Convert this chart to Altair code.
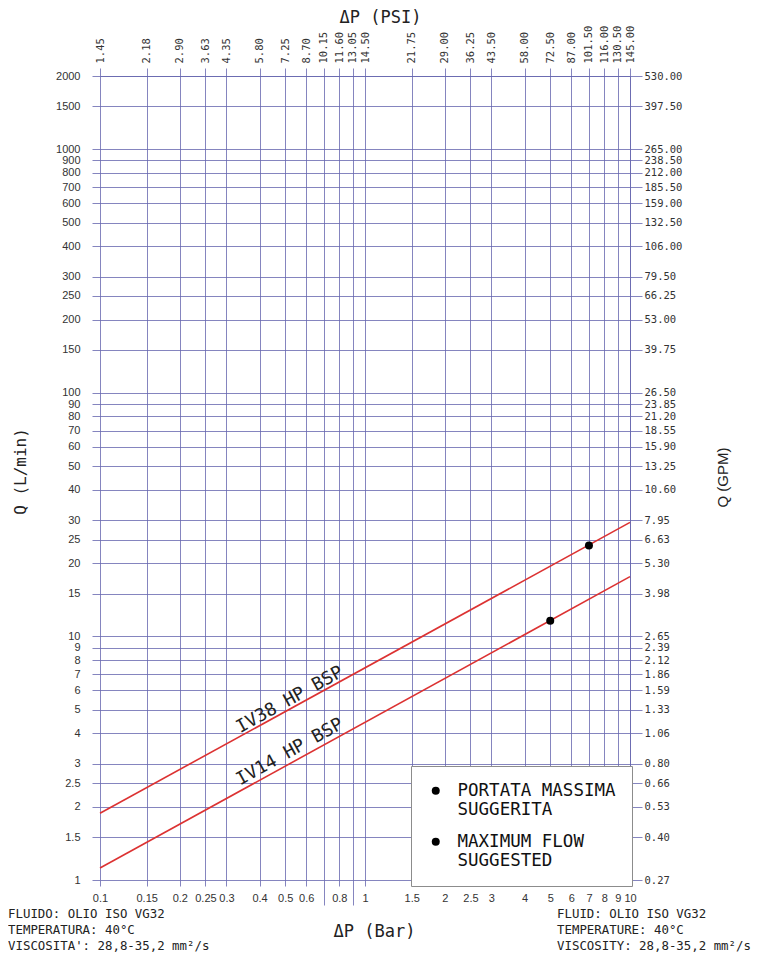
import json
import altair as alt
import pandas as pd

# ---------------- data ----------------
bar_ticks = [0.1, 0.15, 0.2, 0.25, 0.3, 0.4, 0.5, 0.6, 0.7, 0.8, 0.9, 1,
             1.5, 2, 2.5, 3, 4, 5, 6, 7, 8, 9, 10]
bar_unlabeled = [0.7, 0.9]
psi_labels = ["1.45", "2.18", "2.90", "3.63", "4.35", "5.80", "7.25", "8.70",
              "10.15", "11.60", "13.05", "14.50", "21.75", "29.00", "36.25",
              "43.50", "58.00", "72.50", "87.00", "101.50", "116.00",
              "130.50", "145.00"]
lpm_ticks = [1, 1.5, 2, 2.5, 3, 4, 5, 6, 7, 8, 9, 10, 15, 20, 25, 30, 40, 50,
             60, 70, 80, 90, 100, 150, 200, 250, 300, 400, 500, 600, 700, 800,
             900, 1000, 1500, 2000]
gpm_labels = ["0.27", "0.40", "0.53", "0.66", "0.80", "1.06", "1.33", "1.59",
              "1.86", "2.12", "2.39", "2.65", "3.98", "5.30", "6.63", "7.95",
              "10.60", "13.25", "15.90", "18.55", "21.20", "23.85", "26.50",
              "39.75", "53.00", "66.25", "79.50", "106.00", "132.50",
              "159.00", "185.50", "212.00", "238.50", "265.00", "397.50",
              "530.00"]

series_names = ["IV38 HP BSP", "IV14 HP BSP"]
series_dp = [[0.1, 10], [0.1, 10]]
series_q = [[1.88, 29.4], [1.12, 17.6]]

max_dp = [7, 5]
max_q = [23.6, 11.6]

label_dp = [0.521, 0.521]
label_q = [5.48, 3.35]

legend_lines = [["PORTATA MASSIMA", "SUGGERITA"], ["MAXIMUM FLOW", "SUGGESTED"]]
legend_domain = ["|".join(l) for l in legend_lines]

notes_it = ["FLUIDO: OLIO ISO VG32", "TEMPERATURA: 40°C",
            "VISCOSITA': 28,8-35,2 mm²/s"]
notes_en = ["FLUID: OLIO ISO VG32", "TEMPERATURE: 40°C",
            "VISCOSITY: 28,8-35,2 mm²/s"]

# ---------------- tables ----------------
lines_df = pd.DataFrame([
    {"series": s, "dp": d, "q": q}
    for s, ds, qs in zip(series_names, series_dp, series_q)
    for d, q in zip(ds, qs)
])
points_df = pd.DataFrame({"dp": max_dp, "q": max_q,
                          "note": [legend_domain[1]] * len(max_dp)})
labels_df = pd.DataFrame({"name": series_names, "dp": label_dp, "q": label_q})

# ---------------- style ----------------
GRID = "#6666ae"
MONO = "DejaVu Sans Mono"
SANS = "Liberation Sans"

xs = alt.Scale(type="log", domain=[0.1, 10], nice=False)
ys = alt.Scale(type="log", domain=[1, 2000], nice=False)

js = json.dumps

x_bottom = alt.Axis(
    orient="bottom", values=bar_ticks,
    labelExpr=f"indexof({js(bar_unlabeled)}, datum.value) >= 0 ? '' : toString(datum.value)",
    grid=True, gridColor=GRID, gridWidth=0.8, domain=False,
    tickColor=GRID, tickWidth=0.8,
    tickSize={"condition": {"test": f"indexof({js(bar_unlabeled)}, datum.value) >= 0",
                            "value": 25}, "value": 6},
    labelFont=SANS, labelFontSize=11, labelColor="#333", labelPadding=6,
    labelFlush=False, labelOverlap=False, labelBound=False,
    title="ΔP (Bar)", titleFont=MONO, titleFontSize=17, titleFontWeight="normal",
    titleColor="#222", titleX=274, titleY=51, titleBaseline="middle",
)
y_left = alt.Axis(
    orient="left", values=lpm_ticks, labelExpr="toString(datum.value)",
    grid=True, gridColor=GRID, gridWidth=0.8, domain=False,
    tickColor=GRID, tickWidth=0.8, tickSize=8,
    labelFont=SANS, labelFontSize=11, labelColor="#333", labelPadding=12,
    labelFlush=False, labelOverlap=False, labelBound=False,
    title="Q (L/min)", titleFont=MONO, titleFontSize=16, titleFontWeight="normal",
    titleColor="#222", titleAngle=270, titleX=-80, titleY=395,
    titleBaseline="middle",
)
x_top = alt.Axis(
    orient="top", values=bar_ticks,
    labelExpr=f"{js(psi_labels)}[indexof({js(bar_ticks)}, datum.value)]",
    grid=False, domain=True, domainColor=GRID, domainWidth=0.8,
    tickColor=GRID, tickWidth=0.8, tickSize=8,
    labelAngle=270, labelAlign="left", labelBaseline="middle",
    labelFont=MONO, labelFontSize=10.5, labelColor="#333", labelPadding=5,
    labelFlush=False, labelOverlap=False, labelBound=False,
    title="ΔP (PSI)", titleFont=MONO, titleFontSize=17, titleFontWeight="normal",
    titleColor="#222", titleX=280, titleY=-59, titleBaseline="middle",
)
y_right = alt.Axis(
    orient="right", values=lpm_ticks,
    labelExpr=f"{js(gpm_labels)}[indexof({js(lpm_ticks)}, datum.value)]",
    grid=False, domain=True, domainColor=GRID, domainWidth=0.8,
    tickColor=GRID, tickWidth=0.8, tickSize=12,
    labelFont=MONO, labelFontSize=10.5, labelColor="#333", labelPadding=2,
    labelFlush=False, labelOverlap=False, labelBound=False,
    title="Q (GPM)", titleFont=SANS, titleFontSize=15, titleFontWeight="normal",
    titleColor="#222", titleAngle=270, titleX=92, titleY=401,
    titleBaseline="middle",
)

# ---------------- layers ----------------
points = alt.Chart(points_df).mark_point(filled=True, size=64, opacity=1).encode(
    x=alt.X("dp:Q", scale=xs, axis=x_top),
    y=alt.Y("q:Q", scale=ys, axis=y_right),
    color=alt.Color(
        "note:N",
        scale=alt.Scale(domain=legend_domain, range=["#000000", "#000000"]),
        legend=alt.Legend(
            orient="none", legendX=311, legendY=690, title=None,
            fillColor="white", strokeColor="#8c8c8c", padding=16,
            symbolType="circle", symbolSize=64, symbolStrokeWidth=0,
            labelFont=MONO, labelFontSize=17.5, labelColor="#111",
            labelLimit=400, labelOffset=13, rowPadding=13,
            labelExpr="split(datum.value, '|')",
        ),
    ),
)

lines = alt.Chart(lines_df).mark_line(color="#dc3232", strokeWidth=1.6).encode(
    x=alt.X("dp:Q", scale=xs, axis=x_bottom),
    y=alt.Y("q:Q", scale=ys, axis=y_left),
    detail="series:N",
)

line_labels = alt.Chart(labels_df).mark_text(
    angle=331, font=MONO, fontSize=18, color="#222",
    align="center", baseline="middle",
).encode(
    x=alt.X("dp:Q", scale=xs, axis=None),
    y=alt.Y("q:Q", scale=ys, axis=None),
    text="name:N",
)

note_left = alt.Chart(pd.DataFrame({"k": [0]})).mark_text(
    font=MONO, fontSize=12.4, color="#222", align="left", baseline="middle",
    lineHeight=16,
).encode(x=alt.value(-92), y=alt.value(838), text=alt.value(notes_it))

note_right = alt.Chart(pd.DataFrame({"k": [0]})).mark_text(
    font=MONO, fontSize=12.4, color="#222", align="left", baseline="middle",
    lineHeight=16,
).encode(x=alt.value(457), y=alt.value(838), text=alt.value(notes_en))

chart = alt.layer(lines, points, line_labels, note_left, note_right).resolve_axis(
    x="independent", y="independent"
).properties(
    width=530, height=804,
    padding={"left": 92, "top": 68, "right": 124, "bottom": 75},
    autosize=alt.AutoSizeParams(type="none"),
    background="white",
).configure_view(stroke=None)

chart.save("out.html", embed_options={"renderer": "svg", "actions": False})
